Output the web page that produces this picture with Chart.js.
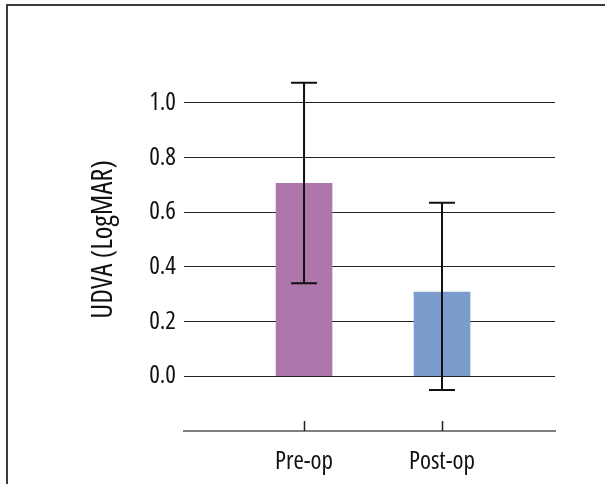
<!DOCTYPE html>
<html>
<head>
<meta charset="utf-8">
<script src="https://cdn.jsdelivr.net/npm/chart.js@4/dist/chart.umd.min.js"></script>
<style>
  html, body { margin: 0; padding: 0; background: #fff; overflow: hidden; }
  #wrap { position: relative; width: 605px; height: 484px; overflow: hidden; }
  #frame { position: absolute; left: 6px; top: 4px; width: 800px; height: 800px;
           border-left: 2px solid #3a3a3a; border-top: 2px solid #3a3a3a; pointer-events: none; }
  canvas { position: absolute; left: 0; top: 0; }
</style>
</head>
<body>
<div id="wrap">
  <canvas id="c" width="605" height="484"></canvas>
  <div id="frame"></div>
</div>
<script>
const categories = ['Pre-op', 'Post-op'];
const categoryPositions = [1, 2];
const meanValues = [0.705, 0.308];
const errorLow = [0.34, -0.05];
const errorHigh = [1.073, 0.634];
const barColors = ['#ae77ac', '#7b9ccc'];
const yTickValues = [0, 0.2, 0.4, 0.6, 0.8, 1.0];
const yAxisTitle = 'UDVA (LogMAR)';

const FONT = "'Open Sans', 'Roboto', sans-serif";
const STRETCH = 'condensed';
const PAD_LEFT = 86;

const errorBarPlugin = {
  id: 'errorBars',
  afterDatasetsDraw(chart) {
    const ctx = chart.ctx;
    const xs = chart.scales.x, ys = chart.scales.y;
    ctx.save();
    ctx.strokeStyle = '#111';
    ctx.lineWidth = 2;
    categoryPositions.forEach((p, i) => {
      const x = xs.getPixelForValue(p);
      const yl = ys.getPixelForValue(errorLow[i]);
      const yh = ys.getPixelForValue(errorHigh[i]);
      ctx.beginPath();
      ctx.moveTo(x, yl); ctx.lineTo(x, yh);
      ctx.moveTo(x - 13, yl); ctx.lineTo(x + 13, yl);
      ctx.moveTo(x - 13, yh); ctx.lineTo(x + 13, yh);
      ctx.stroke();
    });
    ctx.restore();
  }
};

const innerTicksPlugin = {
  id: 'innerTicks',
  afterDraw(chart) {
    const ctx = chart.ctx;
    const xs = chart.scales.x;
    const b = chart.chartArea.bottom;
    ctx.save();
    ctx.strokeStyle = '#222';
    ctx.lineWidth = 1.5;
    categoryPositions.forEach(p => {
      const x = Math.round(xs.getPixelForValue(p)) + 0.5;
      ctx.beginPath();
      ctx.moveTo(x, b - 10); ctx.lineTo(x, b);
      ctx.stroke();
    });
    ctx.restore();
  }
};

new Chart(document.getElementById('c'), {
  type: 'bar',
  data: {
    datasets: [{
      data: categoryPositions.map((p, i) => ({ x: p, y: meanValues[i] })),
      backgroundColor: barColors,
      borderWidth: 0,
      barThickness: 56
    }]
  },
  options: {
    responsive: false,
    animation: false,
    devicePixelRatio: 1,
    layout: { padding: { left: PAD_LEFT, top: 48, right: 50, bottom: 0 } },
    plugins: { legend: { display: false }, tooltip: { enabled: false } },
    scales: {
      x: {
        type: 'linear',
        offset: false,
        min: 0.13,
        max: 2.819,
        afterBuildTicks: s => { s.ticks = categoryPositions.map(v => ({ value: v })); },
        afterFit: s => { s.height = 53; },
        grid: { display: false, offset: false },
        border: { display: true, color: '#808080', width: 2 },
        ticks: {
          callback: v => categories[categoryPositions.indexOf(v)] || '',
          color: '#111',
          padding: 8,
          maxRotation: 0,
          font: { family: FONT, size: 25, weight: STRETCH }
        }
      },
      y: {
        type: 'linear',
        min: -0.2,
        max: 1.2,
        afterBuildTicks: s => { s.ticks = yTickValues.map(v => ({ value: v })); },
        afterFit: s => { s.width = 184 - PAD_LEFT; },
        grid: { color: '#222', lineWidth: 1, drawTicks: false },
        border: { display: false },
        ticks: {
          callback: v => Number(v).toFixed(1),
          color: '#111',
          padding: 8,
          font: { family: FONT, size: 25, weight: STRETCH }
        },
        title: {
          display: true,
          text: yAxisTitle,
          color: '#111',
          padding: { top: 0, bottom: 0 },
          font: { family: FONT, size: 29, weight: STRETCH }
        }
      }
    }
  },
  plugins: [errorBarPlugin, innerTicksPlugin]
});
</script>
</body>
</html>
